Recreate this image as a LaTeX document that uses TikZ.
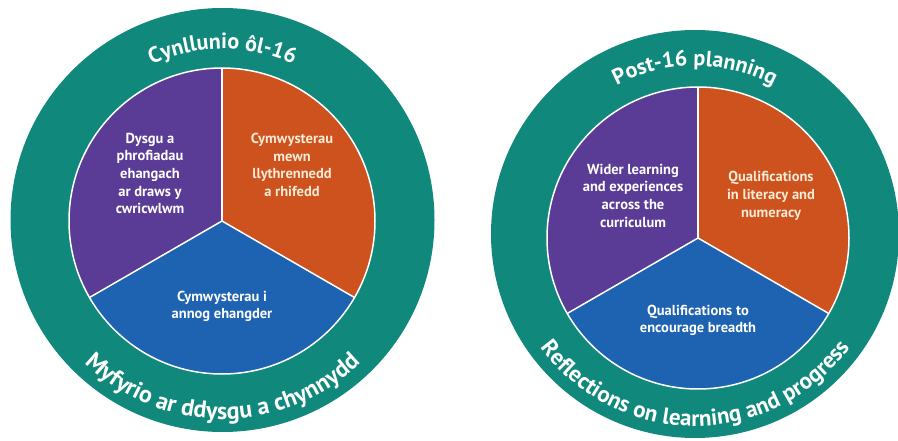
\documentclass[tikz,border=0pt]{standalone}
\usepackage{fontspec}
\setmainfont{PT Sans}
\usetikzlibrary{decorations.text}
\definecolor{ringteal}{HTML}{10887C}
\definecolor{segpurple}{HTML}{5A3C96}
\definecolor{segorange}{HTML}{CD521E}
\definecolor{segblue}{HTML}{1E62B2}
\definecolor{cream}{HTML}{FBEBD6}
\tikzset{
  divider/.style={draw=white, line width=1.5pt},
  segtext/.style={align=center, text=white, inner sep=0pt, font=\bfseries\fontsize{14.5}{17.7}\selectfont},
  orangetext/.style={segtext, text=cream},
}
\newcommand{\ringfontA}{\bfseries\fontsize{22}{22}\selectfont}
\newcommand{\ringfontB}{\bfseries\fontsize{24}{24}\selectfont}
\newcommand{\ringfontC}{\bfseries\fontsize{23}{23}\selectfont}
\begin{document}
\begin{tikzpicture}[x=1pt,y=1pt]
\useasboundingbox (0,0) rectangle (898,440);
\fill[white] (0,0) rectangle (898,440);

% ---------- left circle ----------
\coordinate (LO) at (222.5,220);
\coordinate (LI) at (222,219);
\fill[ringteal] (LO) circle[radius=212pt];
\fill[segpurple] (LI) -- ++(90:153pt) arc[start angle=90,end angle=210,radius=153pt] -- cycle;
\fill[segblue] (LI) -- ++(210:153pt) arc[start angle=210,end angle=330,radius=153pt] -- cycle;
\fill[segorange] (LI) -- ++(-30:153pt) arc[start angle=-30,end angle=90,radius=153pt] -- cycle;
\path (LI) ++(90:153pt) coordinate (LT);
\path (LI) ++(210:153pt) coordinate (LL);
\path (LI) ++(330:153pt) coordinate (LR);
\draw[divider] (LI) circle[radius=153pt];
\draw[divider] (LI) -- (LT);
\draw[divider] (LI) -- (LL);
\draw[divider] (LI) -- (LR);

\node[segtext] (lpurple) at (150,266.5) {Dysgu a\\phrofiadau\\ehangach\\ar draws y\\cwricwlwm};
\node[orangetext] (lorange) at (292,275) {Cymwysterau\\mewn\\llythrennedd\\a rhifedd};
\node[segtext] (lblue) at (222,133.5) {Cymwysterau i\\annog ehangder};

\path[decorate, decoration={text along path, text align=center, text color=white,
  text={|\ringfontA|Cynllunio ôl-16}}]
  (LO) ++(160:171pt) arc[start angle=160,end angle=20,radius=171pt];
\path[decorate, decoration={text along path, text align=center, text color=white,
  text={|\ringfontB|Myfyrio ar ddysgu a chynnydd}}]
  (LO) ++(190:199pt) arc[start angle=190,end angle=350,radius=199pt];

% ---------- right circle ----------
\coordinate (RO) at (695,206);
\coordinate (RI) at (698,202);
\fill[ringteal] (RO) circle[radius=204pt];
\fill[segpurple] (RI) -- ++(90:151pt) arc[start angle=90,end angle=210,radius=151pt] -- cycle;
\fill[segblue] (RI) -- ++(210:151pt) arc[start angle=210,end angle=330,radius=151pt] -- cycle;
\fill[segorange] (RI) -- ++(-30:151pt) arc[start angle=-30,end angle=90,radius=151pt] -- cycle;
\path (RI) ++(90:151pt) coordinate (RT);
\path (RI) ++(210:151pt) coordinate (RL);
\path (RI) ++(330:151pt) coordinate (RR);
\draw[divider] (RI) circle[radius=151pt];
\draw[divider] (RI) -- (RT);
\draw[divider] (RI) -- (RL);
\draw[divider] (RI) -- (RR);

\node[segtext] (rpurple) at (633,244.5) {Wider learning\\and experiences\\across the\\curriculum};
\node[orangetext] (rorange) at (771,244) {Qualifications\\in literacy and\\numeracy};
\node[segtext] (rblue) at (698,119.5) {Qualifications to\\encourage breadth};

\path[decorate, decoration={text along path, text align=center, text color=white,
  text={|\ringfontA|Post-16 planning}}]
  (RO) ++(160:168pt) arc[start angle=160,end angle=20,radius=168pt];
\path[decorate, decoration={text along path, text align=center, text color=white,
  text={|\ringfontC|Reflections on learning and progress}}]
  (RO) ++(185:192pt) arc[start angle=185,end angle=355,radius=192pt];
\end{tikzpicture}
\end{document}
